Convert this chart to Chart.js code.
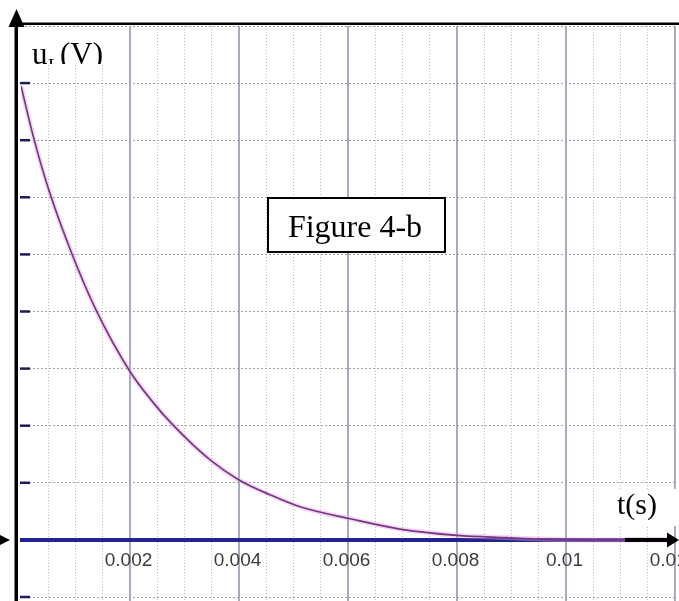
<!DOCTYPE html>
<html>
<head>
<meta charset="utf-8">
<title>Figure 4-b</title>
<script src="https://cdn.jsdelivr.net/npm/chart.js@4/dist/chart.umd.min.js"></script>
<style>
  html, body { margin: 0; padding: 0; background: #fff; }
  #wrap { width: 679px; height: 601px; position: relative; }
</style>
</head>
<body>
<div id="wrap"><canvas id="chart" width="679" height="601"></canvas></div>
<script>
"use strict";

// ── data ──────────────────────────────────────────────────────────────────────
const tValues = [0, 0.00023, 0.00052, 0.00093, 0.00138, 0.002, 0.00243, 0.0028,
                 0.00347, 0.004, 0.00457, 0.00512, 0.00604, 0.00695, 0.008,
                 0.0089, 0.0097, 0.0105, 0.012];
const uValues = [7.95, 7.05, 6.1, 5.02, 4.02, 2.95, 2.4, 2, 1.4, 1.05, 0.79, 0.58,
                 0.37, 0.19, 0.08, 0.04, 0.01, 0, 0];

const xLabelTicks = [0.002, 0.004, 0.006, 0.008, 0.01, 0.012];
const xLabels     = ["0.002", "0.004", "0.006", "0.008", "0.01", "0.012"];
const xMinorTicks = [0.0005, 0.001, 0.0015, 0.002, 0.0025, 0.003, 0.0035, 0.004,
                     0.0045, 0.005, 0.0055, 0.006, 0.0065, 0.007, 0.0075, 0.008,
                     0.0085, 0.009, 0.0095, 0.01, 0.0105, 0.011, 0.0115, 0.012];
const yTicks      = [-1, 0, 1, 2, 3, 4, 5, 6, 7, 8, 9];
const yMarkTicks  = [-1, 1, 2, 3, 4, 5, 6, 7, 8];

const curvePoints = tValues.map((t, i) => ({ x: t, y: uValues[i] }));

// ── drawing helpers ───────────────────────────────────────────────────────────
function whiteBox(ctx, x, y, w, h) {
  ctx.fillStyle = "#fff";
  ctx.fillRect(x, y, w, h);
}

function triangle(ctx, pts) {
  ctx.beginPath();
  ctx.moveTo(pts[0][0], pts[0][1]);
  ctx.lineTo(pts[1][0], pts[1][1]);
  ctx.lineTo(pts[2][0], pts[2][1]);
  ctx.closePath();
  ctx.fill();
}

// ── plugin: axis line, tick marks, labels, arrows, boxes ──────────────────────
const decorPlugin = {
  id: "decor",
  beforeDatasetsDraw(chart) {
    const { ctx, chartArea, scales } = chart;
    const y0 = scales.y.getPixelForValue(0);
    ctx.save();
    // baseline (u = 0)
    ctx.strokeStyle = "#22228c";
    ctx.lineWidth = 4;
    ctx.beginPath();
    ctx.moveTo(chartArea.left - 1, y0);
    ctx.lineTo(chartArea.right, y0);
    ctx.stroke();
    // short tick marks on the left edge
    ctx.strokeStyle = "#1c1c5a";
    ctx.lineWidth = 2.5;
    yMarkTicks.forEach(v => {
      const py = scales.y.getPixelForValue(v);
      ctx.beginPath();
      ctx.moveTo(chartArea.left - 1, py);
      ctx.lineTo(chartArea.left + 9, py);
      ctx.stroke();
    });
    ctx.restore();
  },
  afterDraw(chart) {
    const { ctx, chartArea, scales } = chart;
    const y0 = scales.y.getPixelForValue(0);
    ctx.save();

    // x tick labels
    ctx.font = "19px 'Liberation Sans', Arial, sans-serif";
    ctx.fillStyle = "#3c3c3c";
    ctx.textAlign = "center";
    ctx.textBaseline = "middle";
    xLabelTicks.forEach((v, i) => {
      ctx.fillText(xLabels[i], scales.x.getPixelForValue(v) - 1.5, y0 + 21);
    });

    // u_L(V) label box (text clipped at the bottom like the original)
    whiteBox(ctx, chartArea.left - 2, 27, 108, 37);
    ctx.save();
    ctx.beginPath();
    ctx.rect(chartArea.left - 2, 27, 108, 37);
    ctx.clip();
    ctx.fillStyle = "#000";
    ctx.textAlign = "left";
    ctx.textBaseline = "alphabetic";
    ctx.font = "31px 'Liberation Serif', 'Times New Roman', serif";
    ctx.fillText("u", 32, 64);
    ctx.font = "19px 'Liberation Serif', 'Times New Roman', serif";
    ctx.fillText("L", 48, 72);
    ctx.font = "31px 'Liberation Serif', 'Times New Roman', serif";
    ctx.fillText("(V)", 60, 64);
    ctx.restore();

    // t(s) label box
    whiteBox(ctx, 607, 489, 72, 37);
    ctx.fillStyle = "#000";
    ctx.textAlign = "left";
    ctx.textBaseline = "alphabetic";
    ctx.font = "30px 'Liberation Serif', 'Times New Roman', serif";
    ctx.fillText("t(s)", 617, 514);

    // Figure 4-b box
    whiteBox(ctx, 267, 197, 179, 56);
    ctx.strokeStyle = "#000";
    ctx.lineWidth = 2;
    ctx.strokeRect(268, 198, 177, 54);
    ctx.fillStyle = "#000";
    ctx.font = "32px 'Liberation Serif', 'Times New Roman', serif";
    ctx.textAlign = "center";
    ctx.fillText("Figure 4-b", 355, 237);

    // vertical axis with arrow, and top border
    ctx.fillRect(14.5, 22, 3.5, 601);
    triangle(ctx, [[16.5, 9], [8.5, 27], [24.5, 27]]);
    ctx.fillRect(16, 22.5, 679, 2.5);

    // time axis arrow on the right, small arrow on the left
    ctx.fillRect(625, y0 - 2, 46, 4);
    triangle(ctx, [[679, y0], [667, y0 - 7.5], [667, y0 + 7.5]]);
    triangle(ctx, [[10, y0], [0, y0 - 5], [0, y0 + 5]]);

    ctx.restore();
  },
};

// ── chart ─────────────────────────────────────────────────────────────────────
new Chart(document.getElementById("chart"), {
  type: "line",
  data: {
    datasets: [
      {
        label: "u_L",
        data: curvePoints,
        borderColor: "#73387e",
        borderWidth: 1.7,
        pointRadius: 0,
        fill: false,
        cubicInterpolationMode: "monotone",
        order: 1,
      },
      {
        label: "halo",
        data: curvePoints,
        borderColor: "rgba(236, 160, 236, 0.4)",
        borderWidth: 5,
        pointRadius: 0,
        fill: false,
        cubicInterpolationMode: "monotone",
        order: 2,
      },
    ],
  },
  options: {
    responsive: false,
    animation: false,
    devicePixelRatio: 1,
    layout: { padding: { left: 21, right: 4, top: 26, bottom: 0 } },
    plugins: { legend: { display: false }, tooltip: { enabled: false } },
    scales: {
      x: {
        type: "linear", min: 0, max: 0.012,
        afterBuildTicks: s => { s.ticks = xMinorTicks.map(v => ({ value: v })); },
        ticks: { display: false },
        grid: { color: "#bcbcbc", lineWidth: 1, drawTicks: false },
        border: { display: false, dash: [1, 2] },
      },
      xMajor: {
        type: "linear", axis: "x", position: "bottom", min: 0, max: 0.012,
        afterBuildTicks: s => { s.ticks = xLabelTicks.map(v => ({ value: v })); },
        ticks: { display: false },
        grid: { color: "#a9a9bf", lineWidth: 2, drawTicks: false },
        border: { display: false },
      },
      y: {
        type: "linear", min: -1.07, max: 9,
        afterBuildTicks: s => { s.ticks = yTicks.map(v => ({ value: v })); },
        ticks: { display: false },
        grid: { color: "#a0a0a0", lineWidth: 1, drawTicks: false },
        border: { display: false, dash: [2, 2] },
      },
    },
  },
  plugins: [decorPlugin],
});
</script>
</body>
</html>
